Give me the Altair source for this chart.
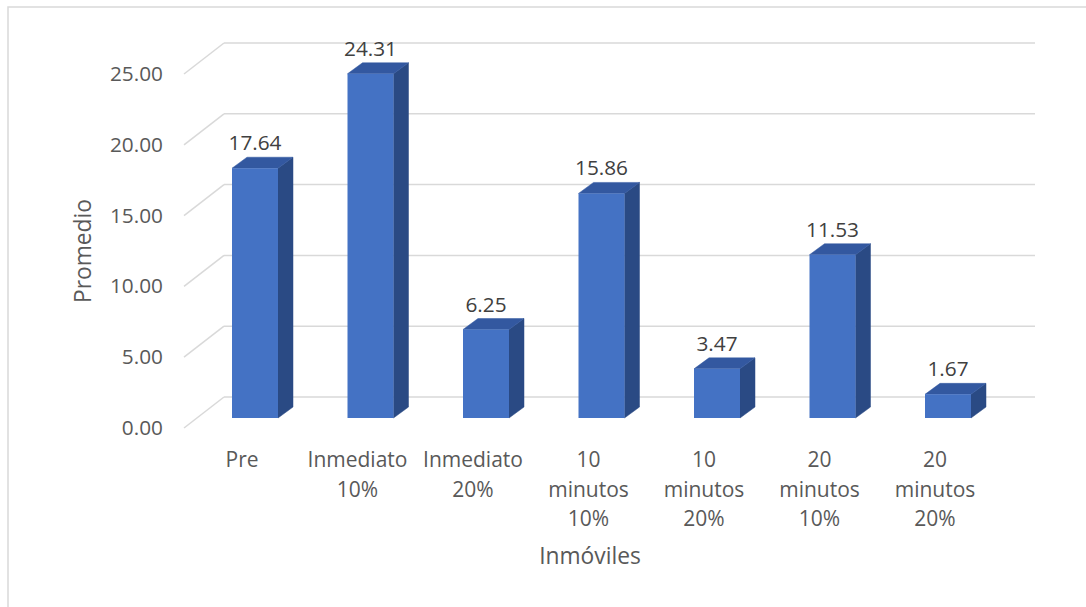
import altair as alt
import pandas as pd

# ---- data -------------------------------------------------------------
categories = [
    "Pre", "Inmediato 10%", "Inmediato 20%", "10 minutos 10%",
    "10 minutos 20%", "20 minutos 10%", "20 minutos 20%",
]
category_lines = [
    ["Pre"],
    ["Inmediato", "10%"],
    ["Inmediato", "20%"],
    ["10", "minutos", "10%"],
    ["10", "minutos", "20%"],
    ["20", "minutos", "10%"],
    ["20", "minutos", "20%"],
]
values = [17.64, 24.31, 6.25, 15.86, 3.47, 11.53, 1.67]
ticks = [0, 5, 10, 15, 20, 25]
tick_labels = ["0.00", "5.00", "10.00", "15.00", "20.00", "25.00"]

# ---- geometry of the pseudo-3D frame ----------------------------------
W, H = 1086, 607
SLOT = 115.5          # px between category centres
FIRST = 255.0         # px centre of the first bar (front face)
ZERO = 418.0          # px of value 0 on the bars' front plane
PPU = 14.16           # px per value unit

def px_x(d):   # pixel offset -> x data units
    return d / SLOT

def px_y(d):   # pixel offset (upwards) -> value units
    return d / PPU

x_scale = alt.Scale(domain=[-FIRST / SLOT, (W - FIRST) / SLOT], nice=False, zero=False)
y_scale = alt.Scale(domain=[-(H - ZERO) / PPU, ZERO / PPU], nice=False, zero=False)

HALF = px_x(23)            # half bar width
BAR_DX, BAR_DY = px_x(15), px_y(11)       # bar depth
FRONT_DX, FRONT_DY = px_x(-13), px_y(-10) # floor front edge vs bar plane
BACK_DX, BACK_DY = px_x(27), px_y(21)     # back wall vs bar plane
WALL_LEFT = px_x(224 - FIRST)
WALL_RIGHT = px_x(1035 - FIRST)
FRONT_LEFT = WALL_LEFT - (BACK_DX - FRONT_DX)

GRID = "#d9d9d9"
TEXT = "#595959"
FONT = "Open Sans"

X = lambda f: alt.X(f, type="quantitative", scale=x_scale, axis=None)
X2 = lambda f: alt.X2(f)
Y = lambda f: alt.Y(f, type="quantitative", scale=y_scale, axis=None)
Y2 = lambda f: alt.Y2(f)

# ---- tables -----------------------------------------------------------
bars = pd.DataFrame({
    "cat": categories,
    "i": range(len(categories)),
    "v": values,
    "lines": category_lines,
})
bars["x"] = bars["i"] - HALF
bars["x2"] = bars["i"] + HALF
bars["y0"] = 0.0
bars["label"] = bars["v"].map(lambda v: f"{v:.2f}")

side_rows, top_rows = [], []
for i, (c, v) in enumerate(zip(categories, values)):
    side_rows += [
        {"cat": c, "x": i + HALF, "y": v, "y2": 0.0},
        {"cat": c, "x": i + HALF + BAR_DX, "y": v + BAR_DY, "y2": BAR_DY},
    ]
    top_rows += [
        {"cat": c, "y": v, "x": i - HALF, "x2": i + HALF},
        {"cat": c, "y": v + BAR_DY, "x": i - HALF + BAR_DX, "x2": i + HALF + BAR_DX},
    ]
side = pd.DataFrame(side_rows)
top = pd.DataFrame(top_rows)

grid = pd.DataFrame({"t": ticks, "label": tick_labels})
grid["back_y"] = grid["t"] + BACK_DY
grid["front_y"] = grid["t"] + FRONT_DY
grid["wl"] = WALL_LEFT
grid["wr"] = WALL_RIGHT
grid["fl"] = FRONT_LEFT

# ---- layers -----------------------------------------------------------
frame = alt.Chart(pd.DataFrame({"a": [0]})).mark_rect(
    fill=None, stroke=GRID, strokeWidth=1.5
).encode(x=alt.value(8), x2=alt.value(W + 20), y=alt.value(7), y2=alt.value(H + 20))

wall_lines = alt.Chart(grid).mark_rule(color=GRID, strokeWidth=1.5).encode(
    x=X("wl"), x2=X2("wr"), y=Y("back_y")
)
floor_diag = alt.Chart(grid).mark_rule(color=GRID, strokeWidth=1.5).encode(
    x=X("fl"), x2=X2("wl"), y=Y("front_y"), y2=Y2("back_y")
)
tick_text = alt.Chart(grid).mark_text(
    align="right", baseline="middle", dx=-21, dy=1,
    font=FONT, fontSize=20.8, color=TEXT
).encode(x=X("fl"), y=Y("front_y"), text="label:N")

side_face = alt.Chart(side).mark_area(
    color="#2a4a84", stroke="#2a4a84", strokeWidth=0.5, orient="vertical"
).encode(x=X("x"), y=Y("y"), y2=Y2("y2"), detail="cat:N")

top_face = alt.Chart(top).mark_area(
    color="#3358a0", stroke="#3358a0", strokeWidth=0.5, orient="horizontal"
).encode(y=Y("y"), x=X("x"), x2=X2("x2"), detail="cat:N")

front_face = alt.Chart(bars).mark_rect(color="#4472c4").encode(
    x=X("x"), x2=X2("x2"), y=Y("y0"), y2=Y2("v")
)

value_text = alt.Chart(bars).mark_text(
    baseline="middle", dy=-24, font=FONT, fontSize=20.8, color="#404040"
).encode(x=X("i"), y=Y("v"), text="label:N")

cat_text = alt.Chart(bars).mark_text(
    baseline="alphabetic", dx=-13, dy=49, lineHeight=29.5,
    font=FONT, fontSize=21, color=TEXT
).encode(x=X("i"), y=Y("y0"), text="lines")

x_title = alt.Chart(pd.DataFrame({"t": ["Inmóviles"]})).mark_text(
    font=FONT, fontSize=22.8, color=TEXT, baseline="middle"
).encode(x=alt.value(590), y=alt.value(557), text="t:N")

y_title = alt.Chart(pd.DataFrame({"t": ["Promedio"]})).mark_text(
    font=FONT, fontSize=22.8, color=TEXT, baseline="middle", angle=270
).encode(x=alt.value(84), y=alt.value(251), text="t:N")

chart = alt.layer(
    frame, wall_lines, floor_diag, tick_text,
    side_face, top_face, front_face, value_text, cat_text,
    x_title, y_title,
).properties(
    width=W, height=H, padding=0, autosize=alt.AutoSizeParams(type="none"),
    background="white",
).configure_view(stroke=None)

chart.save("out.html", embed_options={"renderer": "svg", "actions": False})
